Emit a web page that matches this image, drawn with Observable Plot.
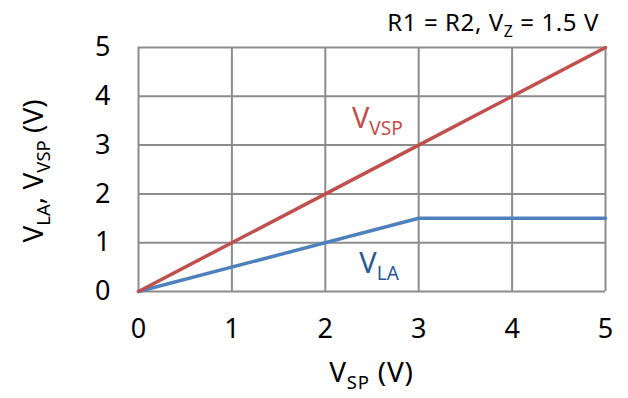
<!DOCTYPE html>
<html><head><meta charset="utf-8">
<script src="https://cdn.jsdelivr.net/npm/d3@7"></script>
<script src="https://cdn.jsdelivr.net/npm/@observablehq/plot@0.6"></script>
<style>body{margin:0;background:#fff}</style>
</head><body><div id="chart"></div>
<script>
const vsp = [0, 3, 5];
const vvsp = [0, 3, 5];
const vla = [0, 1.5, 1.5];
const ticks = [0, 1, 2, 3, 4, 5];
const seriesLabels = [
  {name: "V", sub: "VSP", x: 2.29, y: 3.33, color: "#C0504D"},
  {name: "V", sub: "LA", x: 2.37, y: 0.37, color: "#2A5A94"}
];
const font = "'Noto Sans', 'Open Sans', sans-serif";

const vvspData = vsp.map((x, i) => ({x, y: vvsp[i]}));
const vlaData = vsp.map((x, i) => ({x, y: vla[i]}));

const plot = Plot.plot({
  width: 628, height: 398,
  marginLeft: 138, marginRight: 23, marginTop: 47, marginBottom: 107,
  style: {fontFamily: font, color: "#000", background: "#fff"},
  x: {domain: [0, 5], label: null},
  y: {domain: [0, 5], label: null},
  marks: [
    Plot.ruleX(ticks, {stroke: "#8c8c8c", strokeWidth: 2}),
    Plot.ruleY(ticks, {stroke: "#8c8c8c", strokeWidth: 2}),
    Plot.line(vlaData, {x: "x", y: "y", stroke: "#4F81BD", strokeWidth: 3.5}),
    Plot.line(vvspData, {x: "x", y: "y", stroke: "#C0504D", strokeWidth: 3.5}),
    Plot.axisX({ticks, tickFormat: "d", tickSize: 0, tickPadding: 27, fontSize: 27, label: null}),
    Plot.axisY({ticks, tickFormat: "d", tickSize: 0, tickPadding: 28, fontSize: 27, label: null})
  ]
});
document.getElementById("chart").appendChild(plot);

const svg = d3.select(plot);
const sx = plot.scale("x"), sy = plot.scale("y");

function subText(g, parts, attrs, dy) {
  const t = g.append("text").attr("font-family", font).attr("text-anchor", "start");
  for (const [k, v] of Object.entries(attrs)) t.attr(k, v);
  for (const p of parts) {
    const ts = t.append("tspan").text(p.t);
    if (p.sub) ts.attr("font-size", "0.66em").attr("dy", dy);
    else if (p.reset) ts.attr("dy", -dy);
  }
  return t;
}

for (const l of seriesLabels) {
  subText(svg, [{t: l.name}, {t: l.sub, sub: true}], {
    x: sx.apply(l.x), y: sy.apply(l.y), fill: l.color, "font-size": 29
  }, 7);
}

subText(svg, [{t: "R1 = R2, V"}, {t: "Z", sub: true}, {t: " = 1.5 V", reset: true}], {
  x: 599, y: 31, "text-anchor": "end", "font-size": 24, "letter-spacing": 0.6, fill: "#000"
}, 6);

subText(svg, [{t: "V"}, {t: "SP", sub: true}, {t: " (V)", reset: true}], {
  x: (sx.apply(0) + sx.apply(5)) / 2, y: 382, "text-anchor": "middle", "font-size": 28, "letter-spacing": 0.8, fill: "#000"
}, 7);

subText(svg, [{t: "V"}, {t: "LA", sub: true}, {t: ", V", reset: true}, {t: "VSP", sub: true}, {t: " (V)", reset: true}], {
  transform: `translate(43,${(sy.apply(0) + sy.apply(5)) / 2 + 2}) rotate(-90)`, "text-anchor": "middle", "font-size": 28, fill: "#000"
}, 7);
</script></body></html>
